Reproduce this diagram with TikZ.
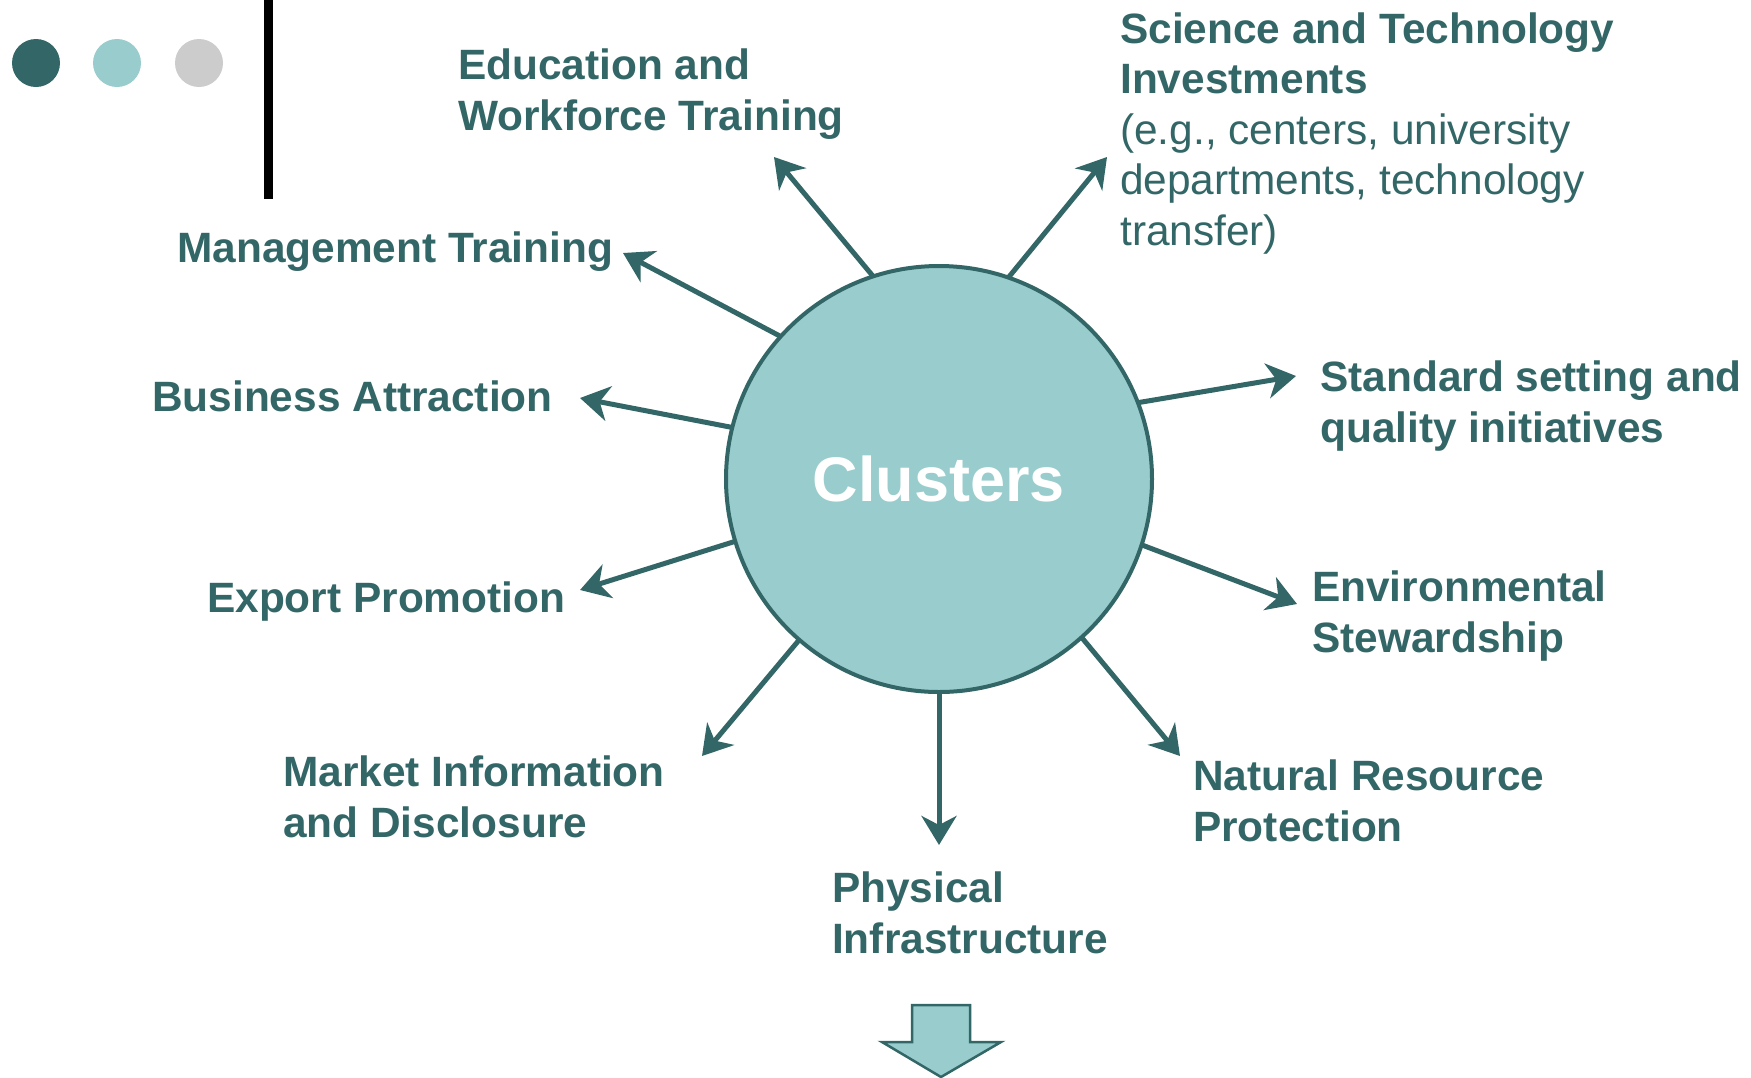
\documentclass[tikz,border=0pt]{standalone}
\usepackage{fontspec}
\setmainfont{Liberation Sans}
\usetikzlibrary{arrows.meta}
\definecolor{darkteal}{HTML}{336666}
\definecolor{lightteal}{HTML}{99CCCC}
\definecolor{lightgrey}{HTML}{CCCCCC}

\begin{document}
\begin{tikzpicture}
        [x=1pt, y=-1pt,
        hub/.style={circle, draw=darkteal, fill=lightteal, line width=4pt, minimum size=426pt, inner sep=0pt, outer sep=0pt},
        lbl/.style={anchor=base west, align=left, inner sep=0pt, text=darkteal, font=\fontsize{42.4}{50.5}\selectfont\bfseries},
        dot/.style={circle, minimum size=48pt, inner sep=0pt},
        spoke/.style={draw=darkteal, line width=5pt, -{Stealth[length=29pt, width=35pt, inset=9pt]}}]
        \useasboundingbox (0,0) rectangle (1751,1077);

        % title decoration
        \node[dot, fill=darkteal] (d1) at (36,63) {};
        \node[dot, fill=lightteal] (d2) at (117,63) {};
        \node[dot, fill=lightgrey] (d3) at (199,63) {};
        \fill[black] (264,0) rectangle (273,199);

        \node[hub, text=white, font=\fontsize{63}{70}\selectfont\bfseries] (clu) at (939,479) {Clusters};

        % labels sit on the baseline of their last line
        \node[lbl] (edu) at (458,130) {Education and\\Workforce Training};
        \node[lbl] (sci) at (1120,245) {Science and Technology\\Investments\\{\mdseries (e.g., centers, university}\\{\mdseries departments, technology}\\{\mdseries transfer)}};
        \node[lbl] (mgt) at (177,262) {Management Training};
        \node[lbl] (bus) at (152,411) {Business Attraction};
        \node[lbl] (std) at (1320,442) {Standard setting and\\quality initiatives};
        \node[lbl] (exp) at (207,612) {Export Promotion};
        \node[lbl] (env) at (1312,652) {Environmental\\Stewardship};
        \node[lbl] (mkt) at (283,837) {Market Information\\and Disclosure};
        \node[lbl] (phy) at (832,953) {Physical\\Infrastructure};
        \node[lbl] (nat) at (1193,841) {Natural Resource\\Protection};

        \coordinate (eduT) at (774,157);
        \coordinate (sciT) at (1107,157);
        \coordinate (mgtT) at (623,253);
        \coordinate (busT) at (580,398);
        \coordinate (stdT) at (1296,376);
        \coordinate (expT) at (580,590);
        \coordinate (envT) at (1297,604);
        \coordinate (mktT) at (702,756);
        \coordinate (phyT) at (939,845);
        \coordinate (natT) at (1180,756);

        \draw[spoke] (clu.108) -- (eduT);
        \draw[spoke] (clu.71) -- (sciT);
        \draw[spoke] (clu.138) -- (mgtT);
        \draw[spoke] (clu.166) -- (busT);
        \draw[spoke] (clu.21) -- (stdT);
        \draw[spoke] (clu.197) -- (expT);
        \draw[spoke] (clu.-18) -- (envT);
        \draw[spoke] (clu.229) -- (mktT);
        \draw[spoke] (clu.270) -- (phyT);
        \draw[spoke] (clu.-48) -- (natT);

        % block arrow at the bottom
        \draw[darkteal, fill=lightteal, line width=2.5pt] (912,1005) -- (970,1005) -- (970,1042) -- (1001,1042)
            -- (941,1077) -- (882,1042) -- (912,1042) -- cycle;
    \end{tikzpicture}
\end{document}
